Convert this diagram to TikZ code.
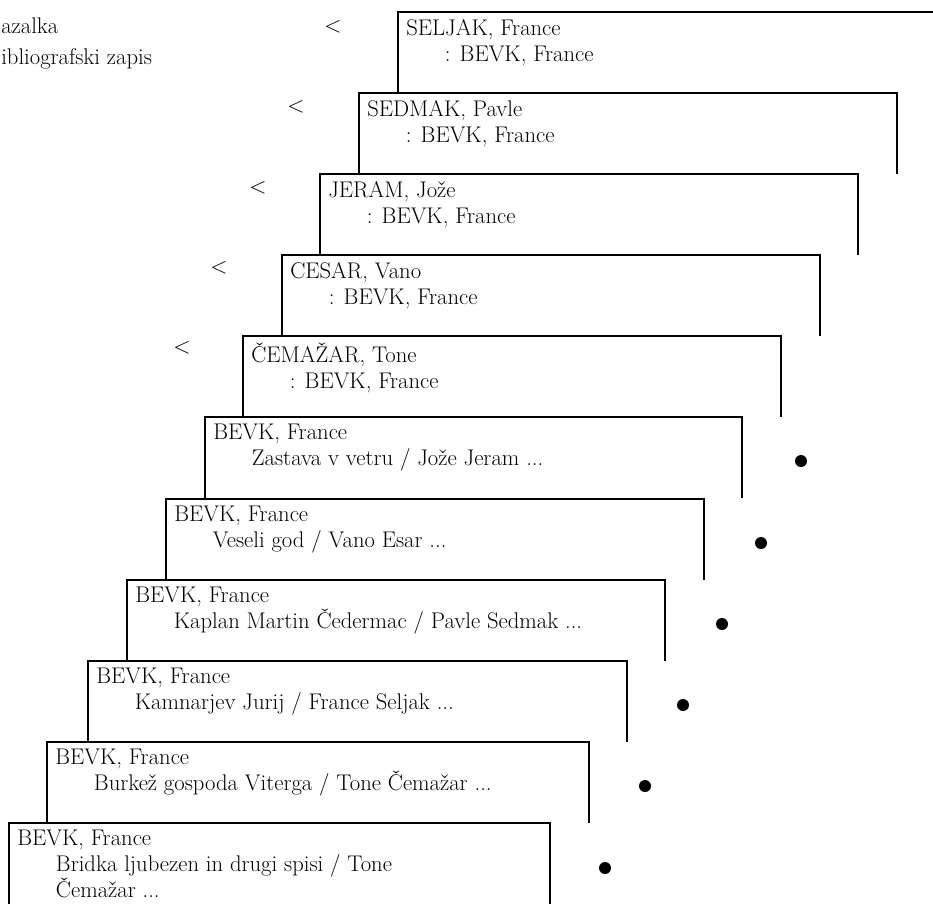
\documentclass[tikz,border=0pt]{standalone}
\usepackage{tikz}

\newcommand{\cardfont}{\fontsize{17}{19.5}\selectfont}
\newcommand{\ind}{\hspace*{29pt}}

\begin{document}
\begin{tikzpicture}[x=0.75pt, y=-0.75pt]

\tikzset{
 card/.style={black, line width=1.1pt},
 cardtext/.style={anchor=north west, align=left, inner sep=0pt, font=\cardfont,
   execute at begin node=\strut},
 cornertext/.style={anchor=base west, inner sep=0pt, font=\cardfont},
 }

\useasboundingbox (0,0) rectangle (933,904);
\clip (0,0) rectangle (933,904);

% labels in the corner
\node[cornertext] (kazalka) at (1,33) {azalka};
\node[cornertext] (zapis) at (1,64) {ibliografski zapis};

% cards, open at the bottom
 \foreach \l/\t/\r in {398/12/936, 359/93/897, 320/174/858, 282/255/820,
   243/336/781, 205/417/742, 166/499/704, 127/580/665, 88/661/627,
   47/742/589, 9/823/550}
  {
  \draw[card] (\l,\t+81) -- (\l,\t) -- (\r,\t) -- (\r,\t+81);
  }

% added entries
\node[cardtext] (seljak) at (406,19) {SELJAK, France\\\ind: BEVK, France};
\node[cardtext] (sedmak) at (367,100) {SEDMAK, Pavle\\\ind: BEVK, France};
\node[cardtext] (jeram) at (328,181) {JERAM, Jože\\\ind: BEVK, France};
\node[cardtext] (cesar) at (290,262) {CESAR, Vano\\\ind: BEVK, France};
\node[cardtext] (cemazar) at (251,343) {ČEMAŽAR, Tone\\\ind: BEVK, France};

% main entries
\node[cardtext] (zastava) at (213,424) {BEVK, France\\\ind Zastava v vetru / Jože Jeram ...};
\node[cardtext] (veseli) at (174,506) {BEVK, France\\\ind Veseli god / Vano Esar ...};
\node[cardtext] (kaplan) at (135,587) {BEVK, France\\\ind Kaplan Martin Čedermac / Pavle Sedmak ...};
\node[cardtext] (kamnarjev) at (96,668) {BEVK, France\\\ind Kamnarjev Jurij / France Seljak ...};
\node[cardtext] (burkez) at (55,749) {BEVK, France\\\ind Burkež gospoda Viterga /\ Tone Čemažar ...};
\node[cardtext] (bridka) at (17,830) {BEVK, France\\\ind Bridka ljubezen in drugi spisi / Tone\\\ind Čemažar ...};

% pointers
 \foreach \x/\y [count=\k] in {333/27, 296/107, 258/188, 219/268, 182/348}
  {
  \node[font=\cardfont, inner sep=0pt] (lt\k) at (\x,\y) {<};
  }

% dots
 \foreach \x/\y in {801/461, 761/543, 722/624, 683/705, 645/786, 605/868}
  {
  \fill[black] (\x,\y) circle[radius=4.5pt];
  }

\end{tikzpicture}
\end{document}
